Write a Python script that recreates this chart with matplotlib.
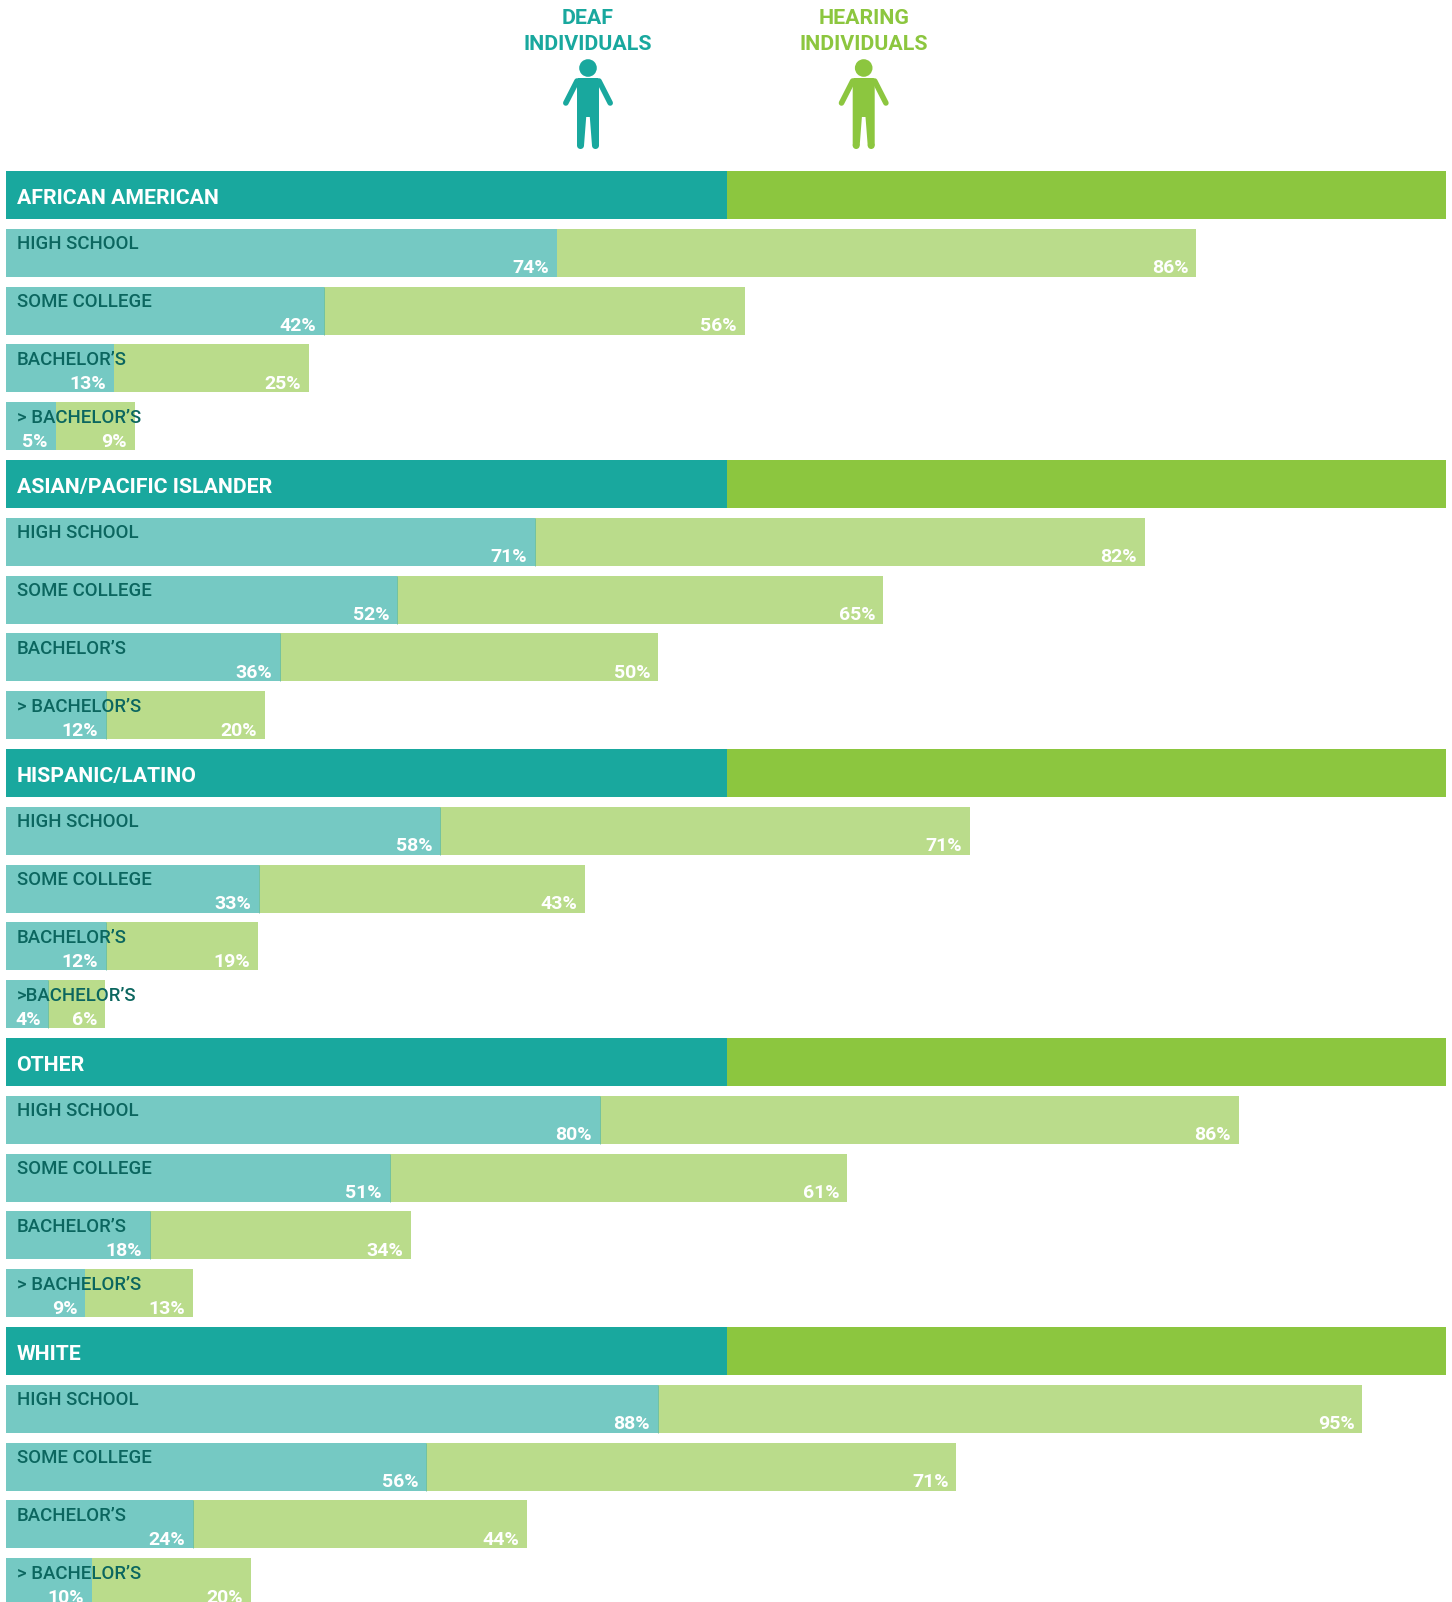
import matplotlib
matplotlib.use('Agg')
import matplotlib.pyplot as plt
from matplotlib.patches import Circle, Polygon

plt.rcParams['font.family'] = ['Roboto', 'DejaVu Sans']

# Colours
TEAL = '#19a89e'
GREEN = '#8cc63f'
LIGHT_TEAL = '#75c9c3'
LIGHT_GREEN = '#badc8b'
DARK_TEXT = '#0b665f'

# Data
groups = ['AFRICAN AMERICAN', 'ASIAN/PACIFIC ISLANDER', 'HISPANIC/LATINO', 'OTHER', 'WHITE']
levels = ['HIGH SCHOOL', 'SOME COLLEGE', 'BACHELOR\u2019S', '> BACHELOR\u2019S']

# printed percentages
deaf_labels = [[74, 42, 13, 5], [71, 52, 36, 12], [58, 33, 12, 4], [80, 51, 18, 9], [88, 56, 24, 10]]
hearing_labels = [[86, 56, 25, 9], [82, 65, 50, 20], [71, 43, 19, 6], [86, 61, 34, 13], [95, 71, 44, 20]]

# drawn bar lengths (header bar = 100)
deaf_bars = [[38.26, 22.1, 7.5, 3.45], [36.75, 27.15, 19.05, 6.95], [30.15, 17.55, 6.95, 2.95],
             [41.25, 26.65, 10.0, 5.5], [45.25, 29.2, 13.0, 5.95]]
hearing_bars = [[82.65, 51.3, 21.05, 8.95], [79.1, 60.9, 45.3, 18.0], [66.95, 40.2, 17.5, 6.9],
                [85.6, 58.4, 28.1, 13.0], [94.2, 66.0, 36.2, 17.0]]
header_split = 50.07

# bars where no darker seam shows between the two tints
no_seam = [(0, 0), (0, 2), (0, 3), (3, 3), (4, 3)]

W, H = 1452, 1602
ROW = 57.8
BAR = 48
TOP = 171
px = 0.72  # one pixel in points at dpi 100

fig = plt.figure(figsize=(W / 100, H / 100), dpi=100, facecolor='white')

# main axes: x is 0-100 across the header bars, y counts rows
ax = fig.add_axes([6 / W, 0, 1440 / W, (H - TOP) / H])
ax.set_xlim(0, 100)
ax.set_ylim((H - TOP - BAR / 2) / ROW, -(BAR / 2) / ROW)
ax.axis('off')
h = BAR / ROW


def put(x, y, txt, dx, dy, **kw):
    # offsets in pixels from a data point, dy downwards
    ax.annotate(txt, (x, y), xytext=(dx * px, -dy * px), textcoords='offset points',
                va='baseline', annotation_clip=False, **kw)


row = 0
for g, group in enumerate(groups):
    ax.barh(row, header_split, height=h, left=0, color=TEAL, linewidth=0)
    ax.barh(row, 100 - header_split, height=h, left=header_split, color=GREEN, linewidth=0)
    put(0, row - h / 2, group, 10.6, 33, color='white', fontsize=15.35, fontweight='bold')
    row += 1
    for i, level in enumerate(levels):
        if g == 2 and i == 3:
            level = '>BACHELOR\u2019S'
        ax.barh(row, hearing_bars[g][i], height=h, color=LIGHT_GREEN, linewidth=0, zorder=2)
        ax.barh(row, deaf_bars[g][i], height=h, color=LIGHT_TEAL, linewidth=0, zorder=3)
        # thin darker seam where the two tints meet
        if (g, i) not in no_seam:
            ax.vlines(deaf_bars[g][i], row - h / 2, row + h / 2, color='#66bea5', lw=0.6, zorder=3)
        put(0, row - h / 2, level, 10.6, 20.5, color=DARK_TEXT, fontsize=13.4, fontweight='medium', zorder=5)
        put(deaf_bars[g][i], row + h / 2, f'{deaf_labels[g][i]}%', -7.8, -3.6, color='white',
            fontsize=14, fontweight='bold', ha='right', zorder=5)
        put(hearing_bars[g][i], row + h / 2, f'{hearing_labels[g][i]}%', -7.8, -3.6, color='white',
            fontsize=14, fontweight='bold', ha='right', zorder=5)
        row += 1

# overlay in pixel coordinates for the column heads and icons
top = fig.add_axes([0, 0, 1, 1], facecolor='none')
top.set_xlim(0, W)
top.set_ylim(H, 0)
top.axis('off')


def person(cx, color):
    top.add_patch(Circle((cx, 68), 8.8, color=color, lw=0))
    # torso and legs in one outline, inner leg edges taper apart
    top.add_patch(Polygon([(cx - 10, 78), (cx + 10, 78), (cx + 11, 80), (cx + 11, 145.5),
                           (cx + 4, 145.5), (cx + 1.8, 117), (cx - 1.8, 117),
                           (cx - 4, 145.5), (cx - 11, 145.5), (cx - 11, 80)],
                          closed=True, color=color, lw=0))
    for side in (-1, 1):
        top.add_patch(Circle((cx + side * 7.5, 145.5), 3.5, color=color, lw=0))
        top.plot([cx + side * 11, cx + side * 22.2], [81, 103], color=color, lw=4.0,
                 solid_capstyle='round')


for cx, color, name in [(588, TEAL, 'DEAF'), (863.7, GREEN, 'HEARING')]:
    top.text(cx, 24, name, color=color, fontsize=15.4, fontweight='bold', ha='center', va='baseline')
    top.text(cx, 50, 'INDIVIDUALS', color=color, fontsize=15.4, fontweight='bold', ha='center', va='baseline')
    person(cx, color)

fig.savefig('out.png', dpi=100, facecolor='white')
